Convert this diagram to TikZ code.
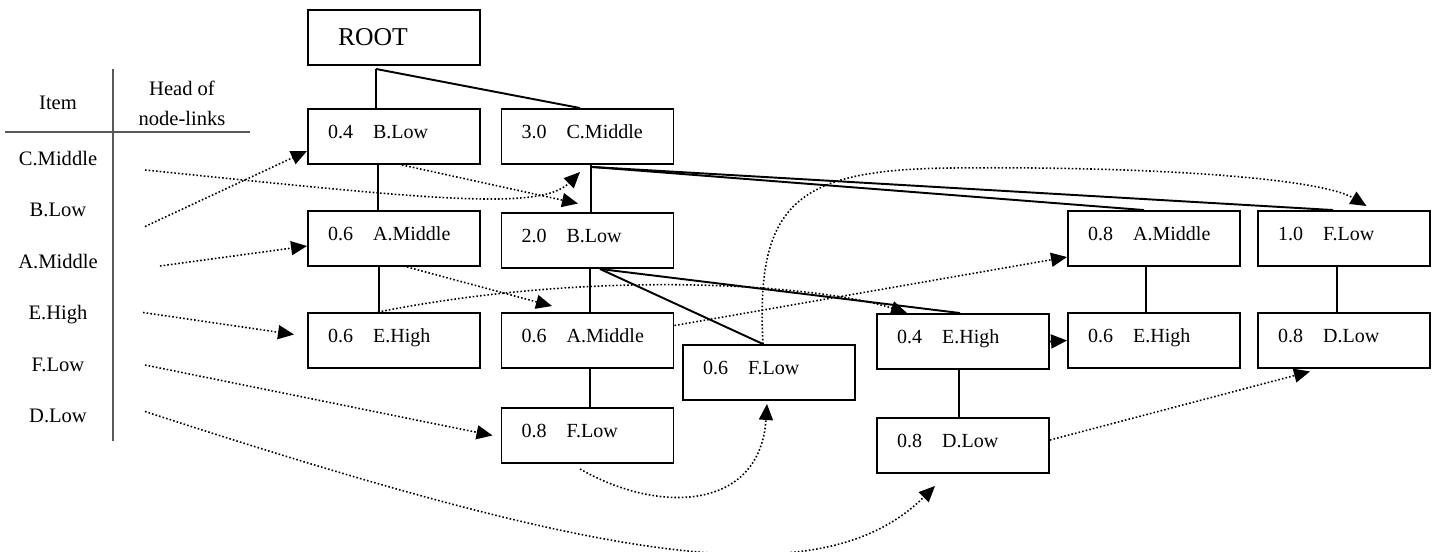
\documentclass[tikz,border=0pt]{standalone}
\usepackage{fontspec}
\setmainfont{Liberation Serif}
\usetikzlibrary{shapes.geometric, arrows, arrows.meta}
\tikzstyle{fpnode} = [rectangle, minimum width=3.44cm, minimum height=1.1cm, text width=2.64cm, inner xsep=0.4cm, inner ysep=0pt, text height=0.7em, text depth=0.42em, draw=black, line width=1.1pt, font=\fontsize{11.4}{13}\selectfont]
\tikzstyle{rootnode} = [rectangle, minimum width=3.44cm, minimum height=1.1cm, text width=2.24cm, inner xsep=0.6cm, inner ysep=0pt, draw=black, line width=1.1pt, font=\fontsize{14.6}{17}\selectfont]
\tikzstyle{itemtext} = [font=\fontsize{11.7}{17}\selectfont, text height=0.7em, text depth=0.2em]
\tikzstyle{headtext} = [font=\fontsize{11.7}{17}\selectfont, align=center]
\tikzstyle{tableline} = [line width=1pt, draw=black!65]
\tikzstyle{edge} = [line width=1.1pt]
\tikzstyle{link} = [line width=0.9pt, dash pattern=on 0.9pt off 1.2pt, ->, >={Triangle[length=0.32cm, width=0.28cm]}]

\begin{document}
\begin{tikzpicture}[node distance=2.04cm]
\useasboundingbox (0,0) rectangle (28.74,-11.02);

% Header table - Item / Head of node-links
\node (item) [headtext] at (1.16,-2.06) {Item};
\node (head) [headtext] at (3.64,-2.06) {Head of\\node-links};
\draw [tableline] (2.26,-1.38) -- (2.26,-8.82);
\draw [tableline] (0.1,-2.64) -- (5.0,-2.64);

\node (icmid) [itemtext] at (1.16,-3.22) {C.Middle};
\node (iblow) [itemtext, node distance=1.03cm, below of=icmid] {B.Low};
\node (iamid) [itemtext, node distance=1.03cm, below of=iblow] {A.Middle};
\node (iehigh) [itemtext, node distance=1.03cm, below of=iamid] {E.High};
\node (iflow) [itemtext, node distance=1.03cm, below of=iehigh] {F.Low};
\node (idlow) [itemtext, node distance=1.03cm, below of=iflow] {D.Low};

% Column 1 - root branch
\node[draw, align=left] (blow04) [fpnode] at (7.88,-2.73) {0.4\quad B.Low};
\node[draw, align=left] (root) [rootnode, above of=blow04, yshift=-0.06cm] {ROOT};
\node[draw, align=left] (amid06a) [fpnode, below of=blow04] {0.6\quad A.Middle};
\node[draw, align=left] (ehigh06a) [fpnode, below of=amid06a] {0.6\quad E.High};

% Column 2 - C.Middle branch
\node[draw, align=left] (cmid30) [fpnode, right of=blow04, xshift=1.83cm] {3.0\quad C.Middle};
\node[draw, align=left] (blow20) [fpnode, below of=cmid30, yshift=-0.04cm] {2.0\quad B.Low};
\node[draw, align=left] (amid06b) [fpnode, below of=blow20, yshift=0.04cm] {0.6\quad A.Middle};
\node[draw, align=left] (flow08) [fpnode, below of=amid06b, yshift=0.14cm] {0.8\quad F.Low};

% Column 3
\node[draw, align=left] (flow06) [fpnode, right of=amid06b, xshift=1.59cm, yshift=-0.64cm] {0.6\quad F.Low};

% Column 4
\node[draw, align=left] (ehigh04) [fpnode, right of=amid06b, xshift=5.47cm, yshift=-0.02cm] {0.4\quad E.High};
\node[draw, align=left] (dlow08a) [fpnode, below of=ehigh04, yshift=-0.04cm] {0.8\quad D.Low};

% Column 5
\node[draw, align=left] (ehigh06b) [fpnode, right of=ehigh04, xshift=1.78cm, yshift=0.02cm] {0.6\quad E.High};
\node[draw, align=left] (amid08) [fpnode, above of=ehigh06b] {0.8\quad A.Middle};

% Column 6
\node[draw, align=left] (dlow08b) [fpnode, right of=ehigh06b, xshift=1.76cm] {0.8\quad D.Low};
\node[draw, align=left] (flow10) [fpnode, above of=dlow08b] {1.0\quad F.Low};

% Tree edges
\draw [edge] ([xshift=-0.36cm,yshift=-0.06cm]root.south) -- ([xshift=-0.36cm]blow04.north);
\draw [edge] ([xshift=-0.36cm,yshift=-0.06cm]root.south) -- ([xshift=-0.15cm]cmid30.north);
\draw [edge] ([xshift=-0.32cm]blow04.south) -- ([xshift=-0.32cm]amid06a.north);
\draw [edge] ([xshift=-0.3cm]amid06a.south) -- ([xshift=-0.3cm]ehigh06a.north);
\draw [edge] ([xshift=0.07cm]cmid30.south) -- ([xshift=0.07cm]blow20.north);
\draw [edge] ([xshift=0.09cm,yshift=-0.04cm]cmid30.south) -- ([xshift=-0.2cm]amid08.north);
\draw [edge] ([xshift=0.09cm,yshift=-0.04cm]cmid30.south) -- ([xshift=-0.22cm]flow10.north);
\draw [edge] ([xshift=0.05cm]blow20.south) -- ([xshift=0.05cm]amid06b.north);
\draw [edge] ([xshift=0.25cm]blow20.south) -- ([xshift=-0.12cm]flow06.north);
\draw [edge] ([xshift=0.25cm]blow20.south) -- ([xshift=-0.06cm]ehigh04.north);
\draw [edge] ([xshift=0.05cm]amid06b.south) -- ([xshift=0.05cm]flow08.north);
\draw [edge] ([xshift=-0.08cm]ehigh04.south) -- ([xshift=-0.08cm]dlow08a.north);
\draw [edge] ([xshift=-0.16cm]amid08.south) -- ([xshift=-0.16cm]ehigh06b.north);
\draw [edge] ([xshift=-0.14cm]flow10.south) -- ([xshift=-0.14cm]dlow08b.north);

% Node-links - C.Middle
\draw [link] ([xshift=1.74cm,yshift=-0.18cm]icmid.center) .. controls (8.4,-3.96) and (10.8,-4.24) .. ([xshift=-0.15cm,yshift=-0.14cm]cmid30.south);

% Node-links - B.Low
\draw [link] ([xshift=1.74cm,yshift=-0.28cm]iblow.center) -- ([yshift=-0.29cm]blow04.west);
\draw [link] ([xshift=0.16cm]blow04.south) -- ([xshift=-0.19cm,yshift=0.17cm]blow20.north);

% Node-links - A.Middle
\draw [link] ([xshift=2.04cm,yshift=-0.04cm]iamid.center) -- ([yshift=-0.15cm]amid06a.west);
\draw [link] ([xshift=0.26cm]amid06a.south) -- ([xshift=-0.71cm,yshift=0.12cm]amid06b.north);
\draw [link] ([yshift=0.3cm]amid06b.east) -- ([yshift=-0.37cm]amid08.west);

% Node-links - E.High
\draw [link] ([xshift=1.7cm,yshift=0.06cm]iehigh.center) -- ([xshift=-0.26cm,yshift=0.12cm]ehigh06a.west);
\draw [link] ([xshift=-0.32cm]ehigh06a.north) .. controls (12,-5.36) and (16.4,-5.7) .. ([xshift=-1.12cm]ehigh04.north);
\draw [link] (ehigh04.east) -- (ehigh06b.west);

% Node-links - F.Low
\draw [link] ([xshift=1.74cm,yshift=0.04cm]iflow.center) -- ([xshift=-0.16cm]flow08.west);
\draw [link] ([xshift=-0.15cm,yshift=-0.1cm]flow08.south) .. controls (13.2,-10.3) and (15.2,-10.2) .. ([xshift=-0.04cm,yshift=-0.06cm]flow06.south);
\draw [link] ([xshift=-0.12cm]flow06.north) .. controls (15.1,-4) and (16,-3.4) .. (19,-3.36) .. controls (23,-3.32) and (26.4,-3.56) .. ([xshift=0.45cm,yshift=0.08cm]flow10.north);

% Node-links - D.Low
\draw [link] ([xshift=1.74cm,yshift=0.14cm]idlow.center) .. controls (12,-11.2) and (16.4,-12) .. ([xshift=-0.56cm,yshift=-0.24cm]dlow08a.south);
\draw [link] ([yshift=0.11cm]dlow08a.east) -- ([xshift=-0.68cm,yshift=-0.05cm]dlow08b.south);

\end{tikzpicture}
\end{document}
